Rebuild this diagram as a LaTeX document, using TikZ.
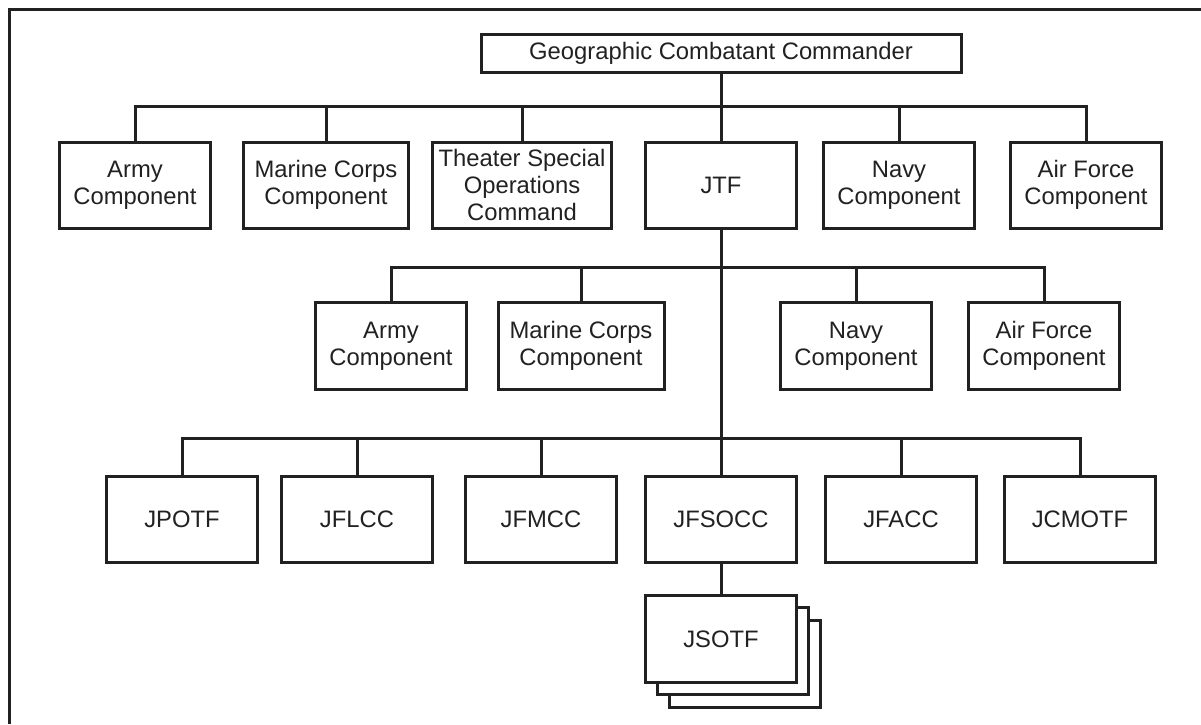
\documentclass[tikz,border=0pt]{standalone}
\usepackage{fontspec}
\setmainfont{Liberation Sans}
\begin{document}
\definecolor{ink}{gray}{0.13}
\begin{tikzpicture}[x=1pt,y=-1pt,
  line width=3pt, draw=ink,
  unit/.style={draw=ink, fill=white, line width=3pt, align=center, inner sep=0pt,
    text=ink, font=\fontsize{23.8}{26.8}\selectfont,
    minimum height=86, minimum width=151},
  link/.style={draw=ink, line width=3pt}]
\useasboundingbox (0,0) rectangle (1201,724);

% page frame (left and top edges)
\draw[link] (9,724) -- (9,9) -- (1201,9);

% top command
\node[unit, minimum width=480, minimum height=38] (gcc) at (721,53.5) {Geographic Combatant Commander};

% first tier
\node[unit] (army1) at (135,185) {Army\\Component};
\node[unit, minimum width=165] (marine1) at (326,185) {Marine Corps\\Component};
\node[unit, minimum width=179] (tsoc) at (522,185) {Theater Special\\Operations\\Command};
\node[unit] (jtf) at (721,185) {JTF};
\node[unit] (navy1) at (899,185) {Navy\\Component};
\node[unit] (af1) at (1086,185) {Air Force\\Component};

% second tier (JTF components)
\node[unit, minimum height=87] (army2) at (391,346) {Army\\Component};
\node[unit, minimum width=166, minimum height=87] (marine2) at (581,346) {Marine Corps\\Component};
\node[unit, minimum height=87] (navy2) at (856,346) {Navy\\Component};
\node[unit, minimum height=87] (af2) at (1044,346) {Air Force\\Component};

% functional components
\node[unit] (jpotf) at (182,519) {JPOTF};
\node[unit] (jflcc) at (357,519) {JFLCC};
\node[unit] (jfmcc) at (541,519) {JFMCC};
\node[unit] (jfsocc) at (721,519) {JFSOCC};
\node[unit] (jfacc) at (901,519) {JFACC};
\node[unit] (jcmotf) at (1080,519) {JCMOTF};

% stacked JSOTF boxes
\node[unit, minimum height=87] (jsotfC) at (745,664) {};
\node[unit, minimum height=87] (jsotfB) at (733,651) {};
\node[unit, minimum height=87] (jsotf) at (721,639) {JSOTF};

% branch points on the trunk
\coordinate (bar1) at (721,106);
\coordinate (bar2) at (721,267);
\coordinate (bar3) at (721,438);

% connectors
\draw[link] (gcc.south) -- (jtf.north);
\foreach \n in {army1,marine1,tsoc,navy1,af1} \draw[link] (\n.north) |- (bar1);
\draw[link] (jtf.south) -- (jfsocc.north);
\foreach \n in {army2,marine2,navy2,af2} \draw[link] (\n.north) |- (bar2);
\foreach \n in {jpotf,jflcc,jfmcc,jfacc,jcmotf} \draw[link] (\n.north) |- (bar3);
\draw[link] (jfsocc.south) -- (jsotf.north);
\end{tikzpicture}
\end{document}
